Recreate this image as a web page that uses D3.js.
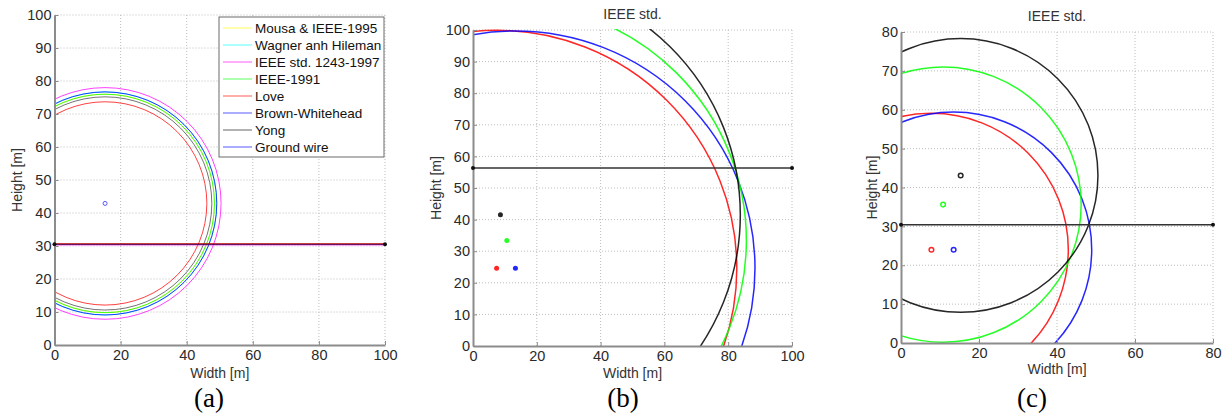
<!DOCTYPE html>
<html><head><meta charset="utf-8">
<script src="https://cdn.jsdelivr.net/npm/d3@7"></script>
<style>
body{margin:0;background:#fff}
svg{display:block}
</style>
</head><body>
<svg id="chart" width="1222" height="416" font-family="Liberation Sans, Arial, sans-serif"></svg>
<script>
// ---------- data ----------
const legendNames = ["Mousa & IEEE-1995","Wagner anh Hileman","IEEE std. 1243-1997","IEEE-1991","Love","Brown-Whitehead","Yong","Ground wire"];
const legendColors = ["#ffff00","#00ffff","#ff00ff","#00ff00","#ff0000","#0000ff","#000000","#0000ff"];

// panel (a): circles around one ground wire
const radiiA = [33.1, 33.8, 35.1, 33.1, 30.8, 33.8, 32.3];
const colorsA = ["#ffff00","#00ffff","#ff00ff","#00ff00","#ff0000","#0000ff","#000000"];
const centerAx = 15.3, centerAy = 42.9;
const groundA = [30.7, 30.5, 30.3];
const groundAColors = ["#ff0000","#000000","#ff00ff"];

// panel (b)
const colorsBC = ["#ff0000","#0000ff","#00ff00","#000000"];
const centersBx = [7.4, 13.3, 10.6, 8.6];
const centersBy = [24.6, 24.6, 33.4, 41.5];
const radiiB = [75.3, 75.1, 75.1, 75.2];
const groundB = 56.3;

// panel (c)
const centersCx = [7.8, 13.5, 10.8, 15.3];
const centersCy = [24.0, 24.0, 35.6, 43.1];
const radiiC = [35.1, 35.4, 35.4, 35.2];
const groundC = 30.4;

const xTicksAB = [0,20,40,60,80,100];
const yTicksAB = [0,10,20,30,40,50,60,70,80,90,100];
const xTicksC = [0,20,40,60,80];
const yTicksC = [0,10,20,30,40,50,60,70,80];

// ---------- layout ----------
const svg = d3.select("#chart");
const panels = [
  {id:"a", left:54.5, right:385, top:15, bottom:345, xMax:100, yMax:100, xt:xTicksAB, yt:yTicksAB, title:null, label:"(a)", labelX:209, ylabX:17, wlabY:373},
  {id:"b", left:473, right:792, top:30, bottom:346, xMax:100, yMax:100, xt:xTicksAB, yt:yTicksAB, title:"IEEE std.", titleY:14, label:"(b)", labelX:623, ylabX:436, wlabY:373},
  {id:"c", left:901, right:1213, top:32, bottom:343, xMax:80, yMax:80, xt:xTicksC, yt:yTicksC, title:"IEEE std.", titleY:16, label:"(c)", labelX:1032, ylabX:872, wlabY:369}
];

panels.forEach(p => {
  p.x = d3.scaleLinear().domain([0,p.xMax]).range([p.left,p.right]);
  p.y = d3.scaleLinear().domain([0,p.yMax]).range([p.bottom,p.top]);
  const g = svg.append("g");
  p.g = g;
  g.append("g").selectAll("line").data(p.xt.slice(1)).join("line")
    .attr("x1",d=>p.x(d)).attr("x2",d=>p.x(d)).attr("y1",p.top).attr("y2",p.bottom)
    .attr("stroke","#bdbdbd").attr("stroke-width",1).attr("stroke-dasharray","1,2");
  g.append("g").selectAll("line").data(p.yt.slice(1)).join("line")
    .attr("y1",d=>p.y(d)).attr("y2",d=>p.y(d)).attr("x1",p.left).attr("x2",p.right)
    .attr("stroke","#bdbdbd").attr("stroke-width",1).attr("stroke-dasharray","1,2");
  svg.append("clipPath").attr("id","clip"+p.id).append("rect")
    .attr("x",p.left).attr("y",p.top-1).attr("width",p.right-p.left+1).attr("height",p.bottom-p.top+1);
  p.plot = g.append("g").attr("clip-path","url(#clip"+p.id+")");
  const ax = g.append("g").attr("transform",`translate(0,${p.bottom})`)
    .call(d3.axisBottom(p.x).tickValues(p.xt).tickSizeInner(-4).tickSizeOuter(0).tickPadding(4));
  const ay = g.append("g").attr("transform",`translate(${p.left},0)`)
    .call(d3.axisLeft(p.y).tickValues(p.yt).tickSizeInner(-4).tickSizeOuter(0).tickPadding(3));
  [ax,ay].forEach(a=>{
    a.attr("font-family",null).attr("font-size",null);
    a.select(".domain").attr("stroke","#8c8c8c").attr("stroke-width",2);
    a.selectAll(".tick line").attr("stroke","#8c8c8c");
    a.selectAll(".tick text").attr("font-size",14.5).attr("fill","#2a2a2a");
  });
  ax.selectAll(".tick text").attr("dy","0.75em");
  g.append("text").attr("x",(p.left+p.right)/2).attr("y",p.wlabY).attr("dy","0.35em")
    .attr("text-anchor","middle").attr("font-size",14).attr("fill","#333").text("Width [m]");
  g.append("text").attr("transform",`translate(${p.ylabX},${(p.top+p.bottom)/2}) rotate(-90)`)
    .attr("dy","0.35em").attr("text-anchor","middle").attr("font-size",14).attr("fill","#333").text("Height [m]");
  if (p.title) g.append("text").attr("x",(p.left+p.right)/2).attr("y",p.titleY).attr("dy","0.35em")
    .attr("text-anchor","middle").attr("font-size",14).attr("fill","#333").text(p.title);
  g.append("text").attr("x",p.labelX).attr("y",407).attr("text-anchor","middle")
    .attr("font-family","Liberation Serif, Times New Roman, serif").attr("font-size",27).attr("fill","#000").text(p.label);
});

function drawCircle(p, cx, cy, r, color, w, op){
  p.plot.append("ellipse")
    .attr("cx",p.x(cx)).attr("cy",p.y(cy))
    .attr("rx",p.x(r)-p.x(0)).attr("ry",p.y(0)-p.y(r))
    .attr("fill","none").attr("stroke",color).attr("stroke-width",w).attr("stroke-opacity",op);
}
function drawGround(p, yv, color, w){
  p.g.append("line").attr("x1",p.x(0)).attr("x2",p.x(p.xMax)).attr("y1",p.y(yv)).attr("y2",p.y(yv))
    .attr("stroke",color).attr("stroke-width",w);
  [0,p.xMax].forEach(xv=>p.g.append("circle").attr("cx",p.x(xv)).attr("cy",p.y(yv)).attr("r",2).attr("fill","#111"));
}

// panel (a)
const pa = panels[0];
radiiA.forEach((r,i)=>drawCircle(pa, centerAx, centerAy, r, colorsA[i], 1, i===6?0.55:0.75));
groundA.forEach((yv,i)=>pa.g.append("line").attr("x1",pa.x(0)).attr("x2",pa.x(100))
  .attr("y1",pa.y(yv)).attr("y2",pa.y(yv)).attr("stroke",groundAColors[i]).attr("stroke-width",i===1?1.4:1).attr("stroke-opacity",i===2?0.6:0.85));
[0,100].forEach(xv=>pa.g.append("circle").attr("cx",pa.x(xv)).attr("cy",pa.y(groundA[1])).attr("r",2).attr("fill","#111"));
pa.g.append("circle").attr("cx",pa.x(centerAx)).attr("cy",pa.y(centerAy)).attr("r",2)
  .attr("fill","none").attr("stroke","#5555ff").attr("stroke-width",1);

// legend
const lg = pa.g.append("g");
lg.append("rect").attr("x",219).attr("y",17).attr("width",165).attr("height",140)
  .attr("fill","#fff").attr("stroke","#6b6b6b").attr("stroke-width",1);
legendNames.forEach((n,i)=>{
  const yy = 28 + i*17;
  lg.append("line").attr("x1",223).attr("x2",252).attr("y1",yy).attr("y2",yy)
    .attr("stroke",legendColors[i]).attr("stroke-width",1.2).attr("stroke-opacity",i===6?0.5:0.55);
  lg.append("text").attr("x",255).attr("y",yy).attr("dy","0.35em").attr("font-size",13.5).attr("fill","#111").text(n);
});

// panel (b)
const pb = panels[1];
radiiB.forEach((r,i)=>drawCircle(pb, centersBx[i], centersBy[i], r, colorsBC[i], 1.5, 0.85));
drawGround(pb, groundB, "#333", 1.5);
centersBx.forEach((cx,i)=>pb.g.append("circle").attr("cx",pb.x(cx)).attr("cy",pb.y(centersBy[i])).attr("r",2.5)
  .attr("fill",colorsBC[i]).attr("fill-opacity",0.85));

// panel (c)
const pc = panels[2];
radiiC.forEach((r,i)=>drawCircle(pc, centersCx[i], centersCy[i], r, colorsBC[i], 1.5, 0.85));
drawGround(pc, groundC, "#333", 1.5);
centersCx.forEach((cx,i)=>pc.g.append("circle").attr("cx",pc.x(cx)).attr("cy",pc.y(centersCy[i])).attr("r",2.3)
  .attr("fill","none").attr("stroke",colorsBC[i]).attr("stroke-width",1.5).attr("stroke-opacity",0.85));
</script>
</body></html>
